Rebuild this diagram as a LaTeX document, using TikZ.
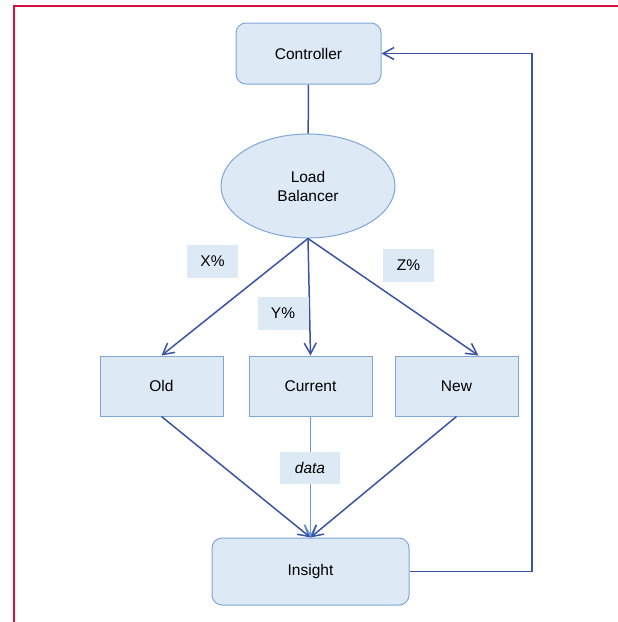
\documentclass[tikz,border=0pt]{standalone}
\usepackage{fontspec}
\setmainfont{Liberation Sans}
\usepackage{tikz}
\usetikzlibrary{shapes.geometric, arrows.meta, positioning}

\definecolor{boxfill}{RGB}{221,233,245}
\definecolor{boxline}{RGB}{126,167,216}
\definecolor{flowline}{RGB}{57,84,164}
\definecolor{dataline}{RGB}{108,155,210}
\definecolor{frameline}{RGB}{214,16,60}

\begin{document}
\begin{tikzpicture}[x=1pt, y=-1pt,
  every node/.style={font=\fontsize{15.5}{19}\selectfont},
  stagebox/.style={draw=boxline, fill=boxfill, line width=1pt, minimum width=123pt, minimum height=60pt},
  roundbox/.style={stagebox, rounded corners=10pt},
  balancer/.style={ellipse, draw=boxline, fill=boxfill, line width=1pt, minimum width=174pt, minimum height=104pt, inner sep=0pt, align=center},
  tag/.style={fill=boxfill, minimum width=51pt, minimum height=33pt},
  flow/.style={draw=flowline, line width=1.5pt, -{Straight Barb[length=11pt, width=12pt]}}
]

  \useasboundingbox (0,0) rectangle (618,622);

  % Rahmen
  \draw[frameline, line width=2pt] (14,622) -- (14,6) -- (618,6);

  % Knoten
  \node[roundbox, minimum width=145pt, minimum height=61pt] (controller) at (308.5,53.5) {Controller};
  \node[balancer] (lb) at (308,186) {Load\\Balancer};
  \node[stagebox] (old) at (161.5,386) {Old};
  \node[stagebox] (current) at (310.5,386) {Current};
  \node[stagebox] (new) at (456.5,386) {New};
  \node[roundbox, minimum width=197pt, minimum height=67pt] (insight) at (310.5,571.5) {Insight};
  \coordinate (loop) at (532,53.5);

  % Verbindungen
  \draw[flowline, line width=1.5pt] (controller) -- (lb);
  \draw[flow] (lb.south) -- (old.north);
  \draw[flow] (lb.south) -- (current.north);
  \draw[flow] (lb.south) -- ([xshift=22pt]new.north);
  \draw[flow] (old.south) -- (insight.north);
  \draw[flow, draw=dataline] (current.south) -- (insight.north);
  \draw[flow] (new.south) -- (insight.north);
  \draw[flow] (insight.east) -| (loop) -- (controller.east);

  % Beschriftungen
  \node[tag] (x) at (212.5,261.5) {X\%};
  \node[tag] (y) at (283,313) {Y\%};
  \node[tag] (z) at (408.5,265.5) {Z\%};
  \node[tag, minimum width=60pt, minimum height=32pt] (data) at (310,468) {\itshape data};

\end{tikzpicture}
\end{document}
